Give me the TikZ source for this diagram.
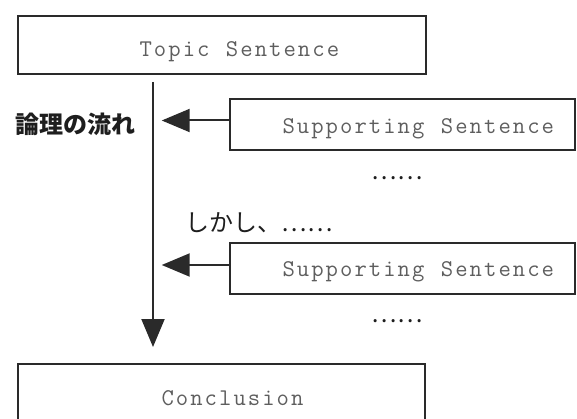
\documentclass[tikz,border=0pt]{standalone}
\usepackage{fontspec}
\newfontfamily\cjk{Noto Sans CJK JP}
\usetikzlibrary{arrows.meta,calc}
\definecolor{edge}{HTML}{2A2A2A}
\definecolor{txt}{HTML}{5E5E5E}
\definecolor{jptxt}{HTML}{1E1E1E}
% fixed character pitch of 14.4pt (Courier-like 24px)
\def\pitchchars#1{\ifx#1\relax\else\makebox[14.4pt]{#1}\expandafter\pitchchars\fi}
\newcommand{\monotext}[2]{\raisebox{-#1}{\pitchchars#2\relax}}
\begin{document}
\begin{tikzpicture}[x=1pt,y=-1pt,
  box/.style={draw=edge, line width=2pt, inner sep=0pt, text height=0pt, text depth=0pt,
    font=\ttfamily\fontsize{24}{24}\selectfont, text=txt},
  flow/.style={draw=edge, line width=2pt,
    -{Triangle[length=28pt,width=23pt]}},
  jp/.style={font=\cjk\fontsize{24}{24}\selectfont, text=jptxt, inner sep=0pt},
]
\useasboundingbox (0,0) rectangle (577,419);
\clip (0,0) rectangle (577,419);
% boxes
\node[box, minimum width=408.3pt, minimum height=58pt] (topic) at (221.85,45)
  {\hspace*{35pt}\monotext{11.7pt}{Topic~Sentence}};
\node[box, minimum width=344.7pt, minimum height=50.4pt] (s1) at (402.65,124.5)
  {\hspace*{31.3pt}\monotext{8.8pt}{Supporting~Sentence}};
\node[box, minimum width=344.7pt, minimum height=50.7pt] (s2) at (402.65,268.7)
  {\hspace*{31.3pt}\monotext{8pt}{Supporting~Sentence}};
\node[box, minimum width=407pt, minimum height=66pt] (concl) at (221.2,397.3)
  {\hspace*{22.6pt}\monotext{7.8pt}{Conclusion}};
% labels
\node[jp, anchor=west, font=\cjk\bfseries\fontsize{24}{24}\selectfont] (flowlabel) at (15.5,124) {論理の流れ};
\node[jp, anchor=west] (however) at (185.5,223) {しかし、……};
\node[jp] (dots1) at (397,178) {……};
\node[jp] (dots2) at (397,320.7) {……};
% main flow
\path (topic.south west) ++(136.3,7) coordinate (vs);
\draw[flow, shorten >=16.3pt] (vs) -- (vs |- concl.north);
% side arrows
\coordinate (a1) at ([yshift=4pt]s1.west);
\coordinate (a2) at ([yshift=3.7pt]s2.west);
\draw[flow, shorten >=8.7pt] (a1) -- (vs |- a1);
\draw[flow, shorten >=8.7pt] (a2) -- (vs |- a2);
\end{tikzpicture}
\end{document}
